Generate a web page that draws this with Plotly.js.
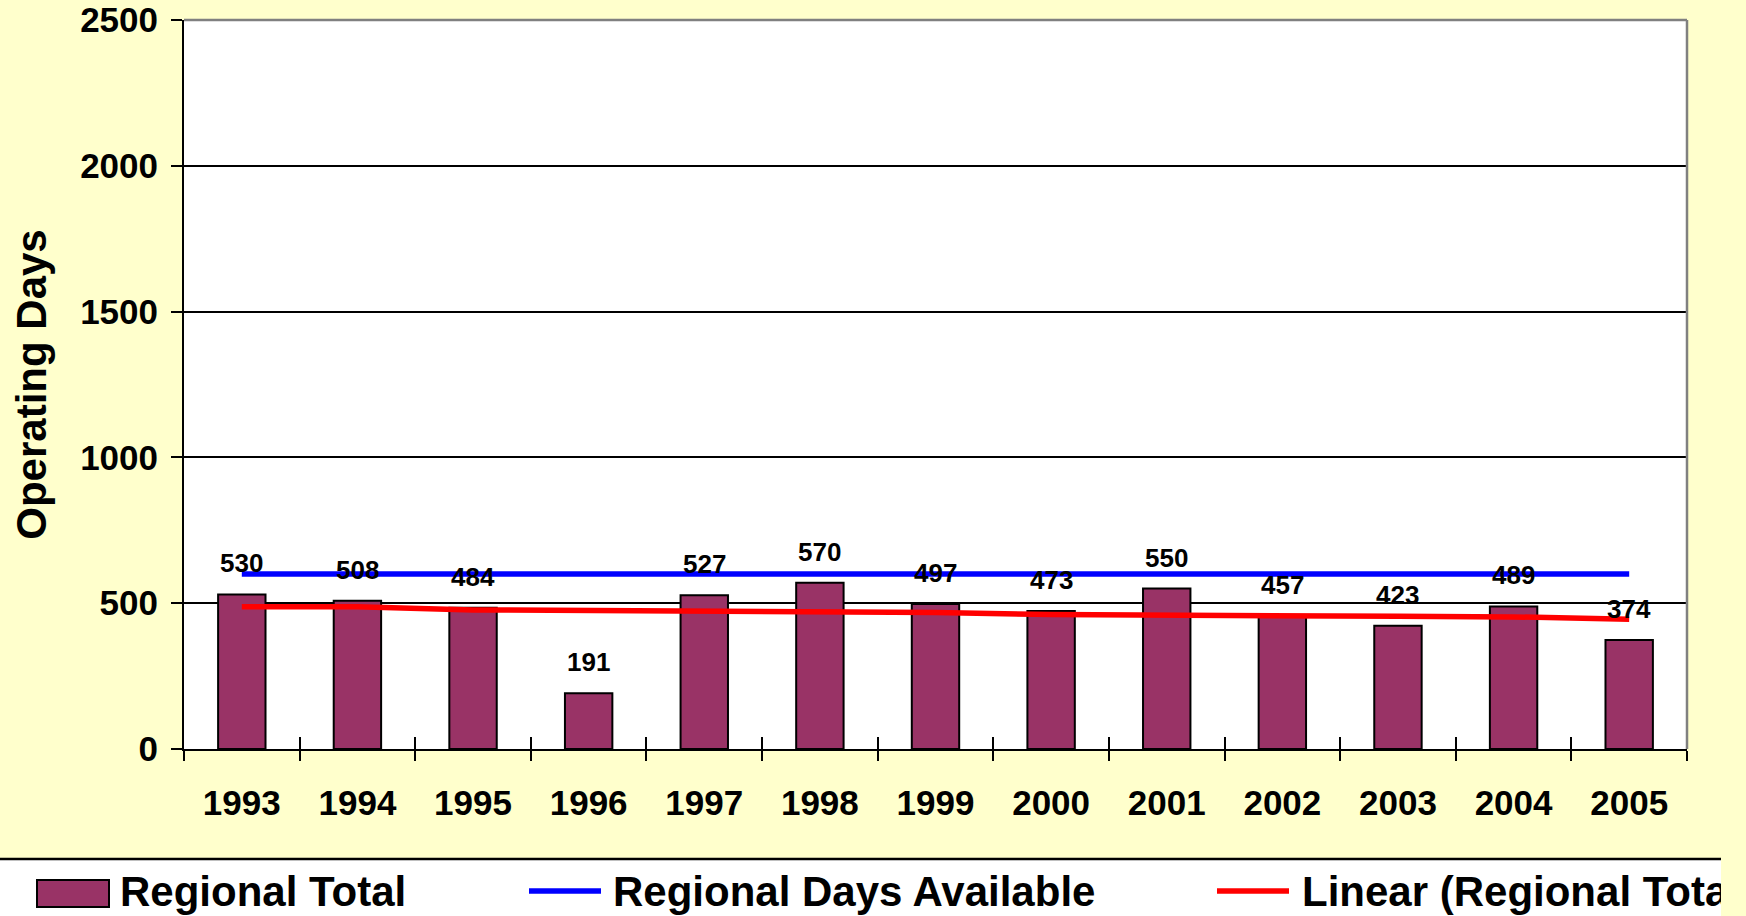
<!DOCTYPE html>
<html>
<head>
<meta charset="utf-8">
<script src="https://cdn.plot.ly/plotly-3.0.1.min.js"></script>
<style>
  html, body { margin: 0; padding: 0; background: #FFFFCC; }
  #myDiv { width: 1721px; height: 916px; overflow: hidden; }
</style>
</head>
<body>
<div id="myDiv"></div>
<script>
var years = ["1993", "1994", "1995", "1996", "1997", "1998", "1999", "2000", "2001", "2002", "2003", "2004", "2005"];
var regionalTotal = [530, 508, 484, 191, 527, 570, 497, 473, 550, 457, 423, 489, 374];
var daysAvailable = [600, 600, 600, 600, 600, 600, 600, 600, 600, 600, 600, 600, 600];
var trendValues = [488, 488, 477, 475, 469, 468, 468, 461, 460, 460, 455, 453, 445];
var seriesNames = ["Regional Total", "Regional Days Available", "Linear (Regional Total)"];
var yTicks = [0, 500, 1000, 1500, 2000, 2500];

var FONT = "Arial, Liberation Sans, sans-serif";
var W = 1721, H = 916;
var M = {l: 184, r: 34, t: 20, b: 167};

// pixel -> paper helpers, only used for the hand-made legend at the bottom
function px(x) { return (x - M.l) / (W - M.l - M.r); }
function py(y) { return (H - M.b - y) / (H - M.t - M.b); }

var bars = {
  x: years,
  y: regionalTotal,
  name: seriesNames[0],
  type: 'bar',
  marker: {color: '#993366', line: {color: '#000000', width: 2}},
  showlegend: false
};

var available = {
  x: years,
  y: daysAvailable,
  name: seriesNames[1],
  type: 'scatter',
  mode: 'lines',
  line: {color: '#0000FF', width: 5.5},
  showlegend: false
};

var trend = {
  x: years,
  y: trendValues,
  name: seriesNames[2],
  type: 'scatter',
  mode: 'lines',
  line: {color: '#FF0000', width: 5.5},
  showlegend: false
};

// invisible trace so the second x axis gets its categories (crossing ticks)
var tickHelper = {
  x: years,
  y: daysAvailable,
  xaxis: 'x2',
  type: 'scatter',
  mode: 'none',
  showlegend: false,
  hoverinfo: 'skip'
};

// value labels above the bars
var annotations = regionalTotal.map(function (v, i) {
  return {
    xref: 'x', yref: 'y', x: i, y: v, text: String(v),
    showarrow: false, yshift: 31, xanchor: 'center', yanchor: 'middle',
    font: {family: FONT, size: 26, weight: 'bold', color: '#000000'}
  };
});

var legendX = [118, 611, 1300];
seriesNames.forEach(function (n, i) {
  annotations.push({
    xref: 'paper', yref: 'paper', x: px(legendX[i]), y: py(891),
    xanchor: 'left', yanchor: 'middle', showarrow: false, text: n,
    font: {family: FONT, size: 42, weight: 'bold', color: '#000000'}
  });
});

var shapes = [
  // gray top and right plot border
  {type: 'line', xref: 'paper', yref: 'paper', x0: 0, x1: 1, y0: 1, y1: 1, line: {color: '#808080', width: 2.5}},
  {type: 'line', xref: 'paper', yref: 'paper', x0: 1, x1: 1, y0: 0, y1: 1, line: {color: '#808080', width: 2.5}},
  // legend strip
  {type: 'rect', xref: 'paper', yref: 'paper', x0: px(-5), x1: px(1730), y0: py(930), y1: py(859),
   fillcolor: '#FFFFFF', line: {width: 0}},
  {type: 'line', xref: 'paper', yref: 'paper', x0: px(0), x1: px(1721), y0: py(859), y1: py(859),
   line: {color: '#000000', width: 2.5}},
  {type: 'rect', xref: 'paper', yref: 'paper', x0: px(37), x1: px(109), y0: py(907), y1: py(880),
   fillcolor: '#993366', line: {color: '#000000', width: 2}},
  {type: 'line', xref: 'paper', yref: 'paper', x0: px(529), x1: px(601), y0: py(891), y1: py(891),
   line: {color: '#0000FF', width: 5.5}},
  {type: 'line', xref: 'paper', yref: 'paper', x0: px(1217), x1: px(1289), y0: py(891), y1: py(891),
   line: {color: '#FF0000', width: 5.5}}
];

var layout = {
  width: W,
  height: H,
  margin: M,
  paper_bgcolor: '#FFFFCC',
  plot_bgcolor: '#FFFFFF',
  font: {family: FONT, color: '#000000'},
  bargap: 0.59,
  showlegend: false,
  xaxis: {
    type: 'category',
    range: [-0.5, 12.5],
    showline: true, linecolor: '#000000', linewidth: 2,
    ticks: 'outside', tickson: 'boundaries', ticklen: 10, tickwidth: 2, tickcolor: '#000000',
    tickfont: {family: FONT, size: 35, weight: 'bold'},
    ticklabelstandoff: 22,
    showgrid: false,
    fixedrange: true
  },
  xaxis2: {
    type: 'category',
    overlaying: 'x', anchor: 'y', side: 'bottom',
    range: [-0.5, 12.5],
    ticks: 'inside', tickson: 'boundaries', ticklen: 12, tickwidth: 2, tickcolor: '#000000',
    showticklabels: false, showgrid: false, showline: false
  },
  yaxis: {
    range: [0, 2500],
    tickvals: yTicks,
    showline: true, linecolor: '#000000', linewidth: 2,
    ticks: 'outside', ticklen: 11, tickwidth: 2, tickcolor: '#000000',
    tickfont: {family: FONT, size: 35, weight: 'bold'},
    ticklabelstandoff: 6,
    showgrid: true, gridcolor: '#000000', gridwidth: 1.5,
    zeroline: false,
    title: {text: 'Operating Days', font: {family: FONT, size: 42, weight: 'bold'}, standoff: 20},
    fixedrange: true
  },
  shapes: shapes,
  annotations: annotations
};

Plotly.newPlot('myDiv', [bars, available, trend, tickHelper], layout, {displayModeBar: false});
</script>
</body>
</html>
